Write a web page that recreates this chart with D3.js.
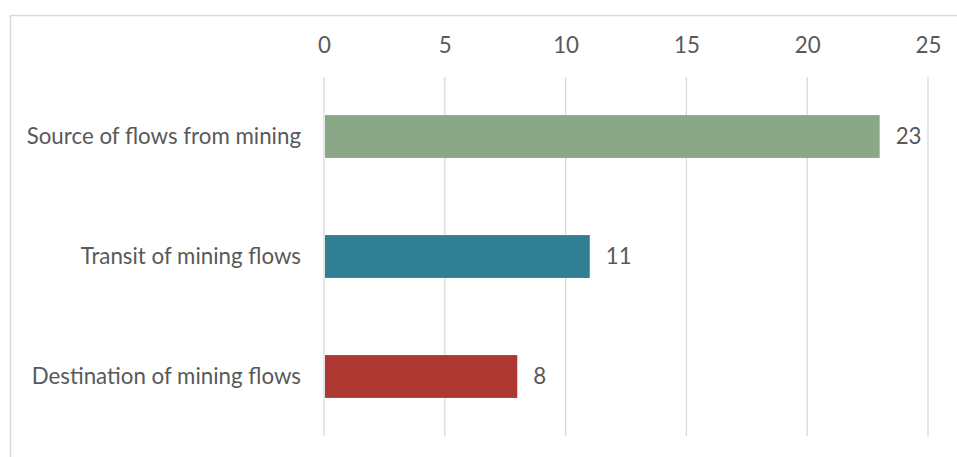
<!DOCTYPE html>
<html>
<head>
<meta charset="utf-8">
<script src="https://cdn.jsdelivr.net/npm/d3@7"></script>
<style>
  html, body { margin: 0; padding: 0; background: #fff; }
  svg { display: block; }
  text { font-family: Lato, "Open Sans", sans-serif; fill: #595959; }
</style>
</head>
<body>
<svg id="chart" width="957" height="457"></svg>
<script>
const categories = ["Source of flows from mining", "Transit of mining flows", "Destination of mining flows"];
const values = [23, 11, 8];
const colors = ["#8AA888", "#317F92", "#AD3831"];
const tickValues = [0, 5, 10, 15, 20, 25];

const svg = d3.select("#chart");

// chart area border (only left & top visible)
svg.append("rect")
  .attr("x", 10.5).attr("y", 15.5)
  .attr("width", 1000).attr("height", 1000)
  .attr("fill", "none").attr("stroke", "#d9d9d9").attr("stroke-width", 1.5);

const x = d3.scaleLinear().domain([0, 25]).range([324, 928]);
const y = d3.scaleBand().domain(categories).range([76.5, 436.5])
  .paddingInner(0.643).paddingOuter(0.3215);

const fs = 22.3;
const ff = "Lato, 'Open Sans', sans-serif";

// gridlines
svg.append("g").selectAll("line").data(tickValues).join("line")
  .attr("x1", d => x(d)).attr("x2", d => x(d))
  .attr("y1", 77).attr("y2", 436)
  .attr("stroke", "#d9d9d9").attr("stroke-width", 1.3);

// top axis tick labels
const axis = d3.axisTop(x).tickValues(tickValues).tickSize(0).tickPadding(0);
const gAxis = svg.append("g").attr("transform", "translate(0,52.5)").call(axis);
gAxis.select(".domain").remove();
gAxis.selectAll("text")
  .attr("font-size", fs).attr("dy", 0)
  .style("font-family", ff).attr("fill", "#595959");

// bars
svg.append("g").selectAll("rect").data(values).join("rect")
  .attr("x", x(0) + 1)
  .attr("y", (d, i) => y(categories[i]))
  .attr("width", d => x(d) - x(0) - 1)
  .attr("height", y.bandwidth())
  .attr("fill", (d, i) => colors[i]);

// category labels
const yAxis = d3.axisLeft(y).tickSize(0).tickPadding(23);
const gY = svg.append("g").attr("transform", `translate(${x(0)},0)`).call(yAxis);
gY.select(".domain").remove();
gY.selectAll("text")
  .attr("font-size", fs)
  .style("font-family", ff).attr("fill", "#595959");

// value labels
svg.append("g").selectAll("text").data(values).join("text")
  .attr("x", d => x(d) + 16)
  .attr("y", (d, i) => y(categories[i]) + y.bandwidth() / 2)
  .attr("dy", "0.35em")
  .attr("font-size", fs)
  .text(d => d);
</script>
</body>
</html>
